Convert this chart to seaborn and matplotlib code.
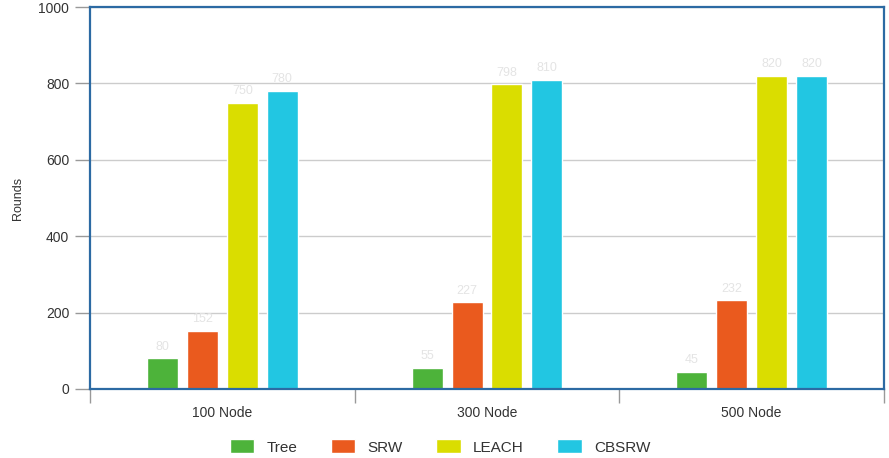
import matplotlib
matplotlib.use("Agg")
import matplotlib.pyplot as plt
import seaborn as sns
import pandas as pd

categories = ["100 Node", "300 Node", "500 Node"]
series = ["Tree", "SRW", "LEACH", "CBSRW"]
tree = [80, 55, 45]
srw = [152, 227, 232]
leach = [750, 798, 820]
cbsrw = [780, 810, 820]
y_ticks = [0, 200, 400, 600, 800, 1000]
palette = ["#4db33a", "#ea5a1e", "#dadd00", "#22c6e2"]

rows = []
for name, vals in zip(series, [tree, srw, leach, cbsrw]):
    for cat, v in zip(categories, vals):
        rows.append({"Category": cat, "Method": name, "Rounds": v})
df = pd.DataFrame(rows)

sns.set_theme(style="white")
plt.rcParams["font.family"] = ["Liberation Sans", "DejaVu Sans"]

fig = plt.figure(figsize=(8.89, 4.58), dpi=100)
ax = fig.add_axes([90 / 889, 1 - 389 / 458, 794 / 889, 382 / 458])

sns.barplot(data=df, x="Category", y="Rounds", hue="Method", order=categories,
            hue_order=series, palette=palette, width=0.604, gap=0.225,
            saturation=1, errorbar=None, ax=ax, legend=True)

ax.set_ylim(0, 1000)
ax.set_xlim(-0.5, 2.5)
ax.set_yticks(y_ticks)
ax.yaxis.grid(True, color="#cccccc", linewidth=1)
ax.set_axisbelow(True)

for spine in ax.spines.values():
    spine.set_visible(True)
    spine.set_color("#2c6aa3")
    spine.set_linewidth(1.6)

ax.tick_params(axis="y", which="major", length=11, width=1, color="#999999",
               labelsize=10, labelcolor="#333333", left=True, pad=4)
ax.tick_params(axis="x", which="major", length=0, labelsize=10,
               labelcolor="#333333", pad=12)
ax.set_xticks([-0.5, 0.5, 1.5, 2.5], minor=True)
ax.tick_params(axis="x", which="minor", length=10, width=1, color="#999999",
               bottom=True)

ax.set_xlabel("")
ax.set_ylabel("Rounds", fontsize=9, color="#333333", labelpad=10)

# faint value labels above each bar
for container in ax.containers:
    ax.bar_label(container, fmt="%d", padding=4, fontsize=9, color="#e4e4e4")

handles, labels = ax.get_legend_handles_labels()
ax.legend_.remove()
fig.legend(handles, labels, loc="center", bbox_to_anchor=(0.495, 1 - 447 / 458),
           ncol=4, frameon=False, fontsize=11, handlelength=1.6,
           handleheight=1.0, columnspacing=2.2, handletextpad=0.8,
           labelcolor="#333333")

fig.savefig("out.png", dpi=100)
